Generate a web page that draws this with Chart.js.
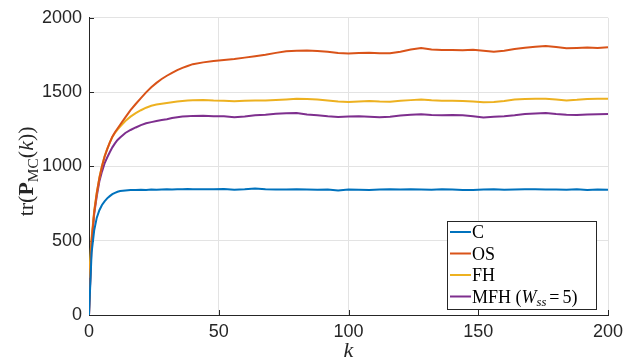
<html>

<head>
    <style>
        body {
            background-color: white;
            margin: 0;
        }
    </style>
    <script src="https://cdn.jsdelivr.net/npm/chart.js@4.4.1/dist/chart.umd.min.js"></script>
</head>

<body>
    <div style="width: 633px; height: 364px;">
        <canvas id="myChart"></canvas>
    </div>
</body>

<script>
    // time steps k (denser at the start where the curves rise fast)
    var kValues = [0, 1, 2, 3, 4, 5, 6, 7, 8, 9, 10, 11, 12,
        14, 16, 18, 20, 22, 24, 26, 28, 30, 32, 34, 36, 38, 40,
        44, 48, 52, 56, 60, 64, 68, 72, 76, 80, 84, 88, 92, 96, 100,
        104, 108, 112, 116, 120, 124, 128, 132, 136, 140, 144, 148, 152, 156, 160,
        164, 168, 172, 176, 180, 184, 188, 192, 196, 200];

    var seriesNames = ['C', 'OS', 'FH', 'MFH (W_ss = 5)'];
    var seriesColors = ['#0072BD', '#D95319', '#EDB120', '#7E2F8E'];

    var traceC = [0, 420, 570, 655, 705, 740, 765, 785, 800, 813, 822, 829, 834,
        838, 841, 842, 843, 842, 844, 843, 845, 846, 845, 847, 846, 848, 847,
        847, 846, 848, 843, 846, 852, 847, 845, 844, 846, 845, 843, 844, 838, 845,
        843, 842, 844, 846, 844, 847, 845, 843, 846, 844, 842, 841, 844, 846, 843,
        844, 846, 847, 844, 845, 843, 846, 842, 844, 843];

    var traceOS = [0, 500, 690, 820, 920, 1000, 1065, 1115, 1160, 1200, 1230, 1255, 1280,
        1330, 1378, 1420, 1460, 1498, 1532, 1562, 1588, 1610, 1630, 1648, 1663, 1676, 1688,
        1700, 1710, 1716, 1722, 1732, 1742, 1752, 1764, 1775, 1779, 1780, 1777, 1771, 1763, 1760,
        1763, 1765, 1762, 1761, 1772, 1786, 1796, 1787, 1783, 1784, 1782, 1785, 1779, 1772, 1779,
        1790, 1799, 1805, 1811, 1803, 1795, 1797, 1800, 1796, 1802];

    var traceFH = [250, 520, 700, 825, 925, 1005, 1068, 1118, 1160, 1198, 1225, 1248, 1268,
        1305, 1335, 1358, 1378, 1395, 1408, 1416, 1422, 1427, 1432, 1436, 1440, 1443, 1445,
        1446, 1443, 1442, 1438, 1442, 1444, 1443, 1447, 1451, 1455, 1453, 1450, 1444, 1437, 1434,
        1437, 1440, 1436, 1435, 1441, 1446, 1450, 1445, 1442, 1441, 1440, 1436, 1431, 1433, 1440,
        1450, 1453, 1455, 1456, 1450, 1444, 1448, 1454, 1456, 1455];

    var traceMFH = [0, 480, 680, 800, 900, 965, 1020, 1060, 1095, 1128, 1155, 1178, 1195,
        1225, 1245, 1262, 1278, 1290, 1298, 1305, 1312, 1318, 1325, 1331, 1336, 1338, 1340,
        1341, 1338, 1337, 1331, 1336, 1344, 1348, 1354, 1358, 1360, 1350, 1345, 1338, 1333, 1336,
        1338, 1334, 1331, 1334, 1342, 1348, 1351, 1346, 1345, 1346, 1344, 1338, 1329, 1334, 1338,
        1344, 1352, 1356, 1360, 1352, 1348, 1346, 1349, 1351, 1353];

    var xTicks = [0, 50, 100, 150, 200];
    var yTicks = [0, 500, 1000, 1500, 2000];

    var axisColor = '#262626';
    var serifFont = '"Liberation Serif", "Times New Roman", serif';

    function toPoints(values) {
        var pts = [];
        for (var i = 0; i < kValues.length; i++) {
            pts.push({ x: kValues[i], y: values[i] });
        }
        return pts;
    }

    // draws a list of text pieces one after the other (for italic / subscript bits)
    function drawParts(ctx, parts, x, y, size, measureOnly) {
        var startX = x;
        for (var i = 0; i < parts.length; i++) {
            var p = parts[i];
            var s = p.sub ? size * 0.7 : size;
            ctx.font = (p.italic ? 'italic ' : '') + (p.bold ? 'bold ' : '') + s + 'px ' + serifFont;
            if (!measureOnly) {
                ctx.fillText(p.t, x, y + (p.sub ? size * 0.22 : 0));
            }
            x += ctx.measureText(p.t).width + (p.gap || 0);
        }
        return x - startX;
    }

    function labelParts(label) {
        if (label == 'MFH (W_ss = 5)') {
            return [{ t: 'MFH ' }, { t: '(' }, { t: 'W', italic: true }, { t: 'ss', italic: true, sub: true, gap: 3 },
                { t: '=', gap: 3 }, { t: '5)' }];
        }
        return [{ t: label }];
    }

    // inward tick marks, MATLAB style
    var tickPlugin = {
        id: 'inwardTicks',
        beforeDatasetsDraw: function (chart) {
            var ctx = chart.ctx;
            var area = chart.chartArea;
            var xs = chart.scales.x;
            var ys = chart.scales.y;
            ctx.save();
            ctx.strokeStyle = axisColor;
            ctx.lineWidth = 1;
            ctx.beginPath();
            for (var i = 0; i < xTicks.length; i++) {
                var px = Math.round(xs.getPixelForValue(xTicks[i])) + 0.5;
                ctx.moveTo(px, area.bottom);
                ctx.lineTo(px, area.bottom - 5);
            }
            for (var j = 0; j < yTicks.length; j++) {
                var py = Math.round(ys.getPixelForValue(yTicks[j])) + 0.5;
                ctx.moveTo(area.left, py);
                ctx.lineTo(area.left + 5, py);
            }
            ctx.stroke();
            ctx.restore();
        }
    };

    // legend box (south east) and y axis label with subscript
    var decorPlugin = {
        id: 'decor',
        afterDraw: function (chart) {
            var ctx = chart.ctx;
            var area = chart.chartArea;

            // y axis title tr(P_MC(k))
            var yTitle = [{ t: 'tr(' }, { t: 'P', bold: true }, { t: 'MC', sub: true }, { t: '(' },
                { t: 'k', italic: true }, { t: '))' }];
            ctx.save();
            ctx.fillStyle = axisColor;
            ctx.textBaseline = 'alphabetic';
            var w = drawParts(ctx, yTitle, 0, 0, 22, true);
            ctx.translate(33, (area.top + area.bottom) / 2 + 5);
            ctx.rotate(-Math.PI / 2);
            drawParts(ctx, yTitle, -w / 2, 0, 22, false);
            ctx.restore();

            // legend
            var boxW = 149, boxH = 88;
            var bx = area.right - 12 - boxW;
            var by = area.bottom - 6 - boxH;
            ctx.save();
            ctx.fillStyle = 'white';
            ctx.fillRect(bx, by, boxW, boxH);
            ctx.strokeStyle = axisColor;
            ctx.lineWidth = 1;
            ctx.strokeRect(Math.round(bx) + 0.5, Math.round(by) + 0.5, boxW, boxH);
            var sets = chart.data.datasets;
            for (var i = 0; i < sets.length; i++) {
                var rowY = by + 11 + i * 21.5;
                ctx.strokeStyle = sets[i].borderColor;
                ctx.lineWidth = 2;
                ctx.beginPath();
                ctx.moveTo(bx + 3, rowY);
                ctx.lineTo(bx + 24, rowY);
                ctx.stroke();
                ctx.fillStyle = '#000';
                ctx.textBaseline = 'alphabetic';
                drawParts(ctx, labelParts(sets[i].label), bx + 25, rowY + 6, 18, false);
            }
            ctx.restore();
        }
    };

    var datasets = [];
    var traces = [traceC, traceOS, traceFH, traceMFH];
    for (var s = 0; s < traces.length; s++) {
        datasets.push({
            label: seriesNames[s],
            data: toPoints(traces[s]),
            borderColor: seriesColors[s],
            backgroundColor: seriesColors[s],
            borderWidth: 2,
            pointRadius: 0,
            tension: 0,
            fill: false
        });
    }

    function plainNumber(value) {
        return String(value);
    }

    var paintingCanvas = document.getElementById('myChart').getContext('2d');
    var chart = new Chart(paintingCanvas, {
        type: 'line',
        data: { datasets: datasets },
        plugins: [tickPlugin, decorPlugin],
        options: {
            responsive: true,
            maintainAspectRatio: false,
            animation: false,
            layout: { padding: { left: 0, right: 25, top: 15, bottom: 0 } },
            plugins: {
                legend: { display: false },
                tooltip: { enabled: false }
            },
            scales: {
                x: {
                    type: 'linear',
                    min: 0,
                    max: 200,
                    afterBuildTicks: function (scale) {
                        scale.ticks = xTicks.map(function (v) { return { value: v }; });
                    },
                    afterFit: function (scale) { scale.height = 49; },
                    grid: { color: '#e3e3e3', drawTicks: false },
                    border: { color: axisColor, width: 1 },
                    ticks: {
                        color: axisColor,
                        padding: 6,
                        maxRotation: 0,
                        callback: plainNumber,
                        font: { family: '"Liberation Sans", Arial, sans-serif', size: 18 }
                    },
                    title: {
                        display: true,
                        text: 'k',
                        color: axisColor,
                        padding: { top: 2, bottom: 0 },
                        font: { family: serifFont, size: 22, style: 'italic' }
                    }
                },
                y: {
                    min: 0,
                    max: 2000,
                    afterBuildTicks: function (scale) {
                        scale.ticks = yTicks.map(function (v) { return { value: v }; });
                    },
                    afterFit: function (scale) { scale.width = 89; },
                    grid: { color: '#e3e3e3', drawTicks: false },
                    border: { color: axisColor, width: 1 },
                    ticks: {
                        color: axisColor,
                        padding: 7,
                        callback: plainNumber,
                        font: { family: '"Liberation Sans", Arial, sans-serif', size: 18 }
                    }
                }
            }
        }
    });
</script>

</html>
